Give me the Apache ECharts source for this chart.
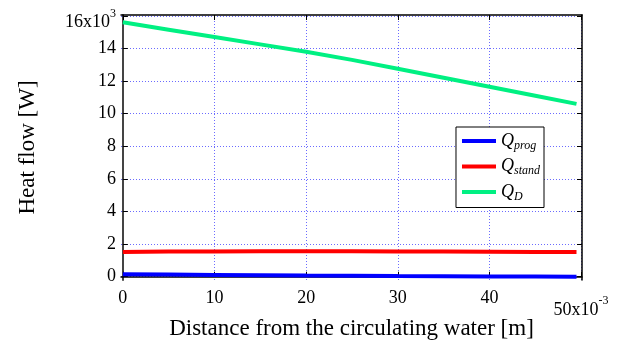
<!DOCTYPE html>
<html>
<head>
<meta charset="utf-8">
<script src="https://cdn.jsdelivr.net/npm/echarts@6/dist/echarts.min.js"></script>
<style>
  html, body { margin: 0; padding: 0; background: #fff; }
  #chart { width: 618px; height: 343px; }
</style>
</head>
<body>
<div id="chart"></div>
<script>
// distance in units of 1e-3 m, heat flow in units of 1e3 W
const distance = [0, 5, 10, 15, 20, 25, 30, 35, 40, 45, 49.5];
const qProg = [0.15, 0.13, 0.11, 0.09, 0.07, 0.06, 0.04, 0.03, 0.02, 0.01, 0.0];
const qStand = [1.52, 1.54, 1.55, 1.56, 1.56, 1.56, 1.55, 1.54, 1.53, 1.52, 1.51];
const qD = [15.6, 15.15, 14.7, 14.25, 13.8, 13.3, 12.75, 12.2, 11.65, 11.1, 10.6];
const yTicks = [0, 2, 4, 6, 8, 10, 12, 14, 16];
const xTicks = [0, 10, 20, 30, 40, 50];

const chart = echarts.init(document.getElementById('chart'));

const pairs = (ys) => distance.map((x, i) => [x, ys[i]]);
const serif = 'Liberation Serif';
const grid = { type: [1, 2], color: '#6b6bff', width: 1 };

const option = {
  animation: false,
  textStyle: { fontFamily: serif },
  grid: { left: 121, right: 36, top: 15, bottom: 63, outerBoundsMode: 'none', containLabel: false },
  legend: {
    right: 74, top: 127,
    orient: 'vertical',
    backgroundColor: '#fff',
    borderColor: '#000', borderWidth: 1,
    padding: [5, 4, 5, 6],
    itemWidth: 34, itemHeight: 4, itemGap: 6,
    icon: 'rect',
    data: ['prog', 'stand', 'D'],
    formatter: (n) => '{q|Q}{s|' + n + '}',
    textStyle: {
      rich: {
        q: { fontFamily: serif, fontStyle: 'italic', fontSize: 18, color: '#000' },
        s: { fontFamily: serif, fontStyle: 'italic', fontSize: 12, color: '#000', padding: [9, 0, 0, 0] }
      }
    }
  },
  xAxis: [{
    type: 'value', min: -0.2, max: 50.1,
    name: 'Distance from the circulating water [m]',
    nameLocation: 'middle', nameGap: 37, nameMoveOverlap: false,
    nameTextStyle: { fontFamily: serif, fontSize: 23, color: '#000' },
    axisLine: { lineStyle: { color: '#000', width: 1.5 } },
    axisTick: { inside: true, length: 5, customValues: xTicks, lineStyle: { color: '#000' } },
    axisLabel: {
      customValues: xTicks, fontFamily: serif, fontSize: 18, color: '#000', margin: 9,
      formatter: (v) => v === 50 ? '{a|50x10}{e|-3}' : String(v),
      rich: {
        a: { fontFamily: serif, fontSize: 18, color: '#000', padding: [12, 0, 0, 0] },
        e: { fontFamily: serif, fontSize: 12, color: '#000', padding: [0, 0, 6, 0] }
      }
    },
    splitLine: { show: true, lineStyle: grid }
  }, {
    type: 'value', position: 'top', min: -0.2, max: 50.1,
    axisLine: { show: true, onZero: false, lineStyle: { color: '#000', width: 1.5 } },
    axisTick: { inside: true, length: 5, customValues: xTicks, lineStyle: { color: '#000' } },
    axisLabel: { show: false }, splitLine: { show: false }
  }],
  yAxis: [{
    type: 'value', min: -0.2, max: 16.05,
    name: 'Heat flow [W]',
    nameLocation: 'middle', nameGap: 82, nameMoveOverlap: false,
    nameTextStyle: { fontFamily: serif, fontSize: 23, color: '#000' },
    axisLine: { show: true, lineStyle: { color: '#444', width: 2 } },
    axisTick: { show: true, inside: true, length: 5, customValues: yTicks, lineStyle: { color: '#000' } },
    axisLabel: {
      customValues: yTicks, fontFamily: serif, fontSize: 18, color: '#000', margin: 5,
      formatter: (v) => v === 16 ? '{a|16x10}{e|3}' : String(v),
      rich: {
        a: { fontFamily: serif, fontSize: 18, color: '#000', padding: [12, 0, 0, 0] },
        e: { fontFamily: serif, fontSize: 12, color: '#000', padding: [0, 0, 4, 0] }
      }
    },
    splitLine: { show: true, lineStyle: grid }
  }, {
    type: 'value', position: 'right', min: -0.2, max: 16.05,
    axisLine: { show: true, onZero: false, lineStyle: { color: '#000', width: 1.5 } },
    axisTick: { show: true, inside: true, length: 5, customValues: yTicks, lineStyle: { color: '#000' } },
    axisLabel: { show: false }, splitLine: { show: false }
  }],
  series: [
    { name: 'prog', type: 'line', data: pairs(qProg), showSymbol: false, lineStyle: { color: '#0000ff', width: 4 }, itemStyle: { color: '#0000ff' } },
    { name: 'stand', type: 'line', data: pairs(qStand), showSymbol: false, lineStyle: { color: '#ff0000', width: 4 }, itemStyle: { color: '#ff0000' } },
    { name: 'D', type: 'line', data: pairs(qD), showSymbol: false, lineStyle: { color: '#00f082', width: 4 }, itemStyle: { color: '#00f082' } }
  ]
};

chart.setOption(option);
</script>
</body>
</html>
